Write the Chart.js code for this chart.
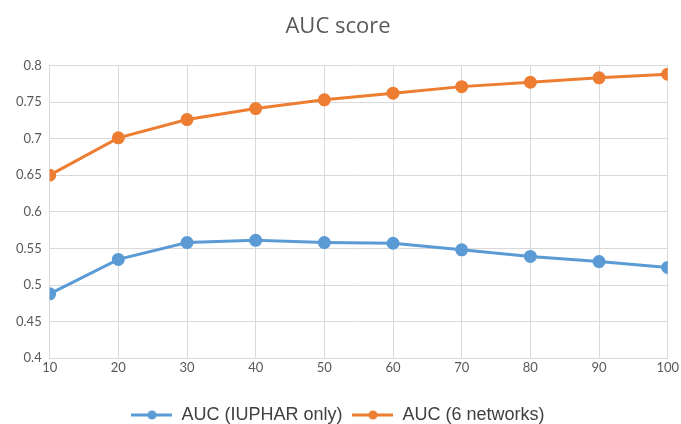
<!DOCTYPE html>
<html>
<head>
<meta charset="utf-8">
<script src="https://cdn.jsdelivr.net/npm/chart.js@4"></script>
<style>
  html, body { margin: 0; padding: 0; background: #fff; }
  #wrap { width: 681px; height: 424px; }
</style>
</head>
<body>
<div id="wrap"><canvas id="auc-chart"></canvas></div>
<script>
// AUC score chart data
const xValues = [10, 20, 30, 40, 50, 60, 70, 80, 90, 100];
const aucIuphar = [0.488, 0.535, 0.558, 0.561, 0.558, 0.557, 0.548, 0.539, 0.532, 0.524];
const aucNetworks = [0.650, 0.701, 0.726, 0.741, 0.753, 0.762, 0.771, 0.777, 0.783, 0.788];
const seriesNames = ['AUC (IUPHAR only)', 'AUC (6 networks)'];
const seriesColors = ['#5B9BD5', '#ED7D31'];

// small canvas with line + dot, used as legend marker
function legendMarker(color) {
  const c = document.createElement('canvas');
  c.width = 41;
  c.height = 12;
  const g = c.getContext('2d');
  g.strokeStyle = color;
  g.lineWidth = 3;
  g.beginPath();
  g.moveTo(0, 6);
  g.lineTo(41, 6);
  g.stroke();
  g.fillStyle = color;
  g.beginPath();
  g.arc(20.5, 6, 4.5, 0, Math.PI * 2);
  g.fill();
  return c;
}

function makeDataset(i, values) {
  return {
    label: seriesNames[i],
    data: xValues.map((x, k) => ({ x: x, y: values[k] })),
    borderColor: seriesColors[i],
    backgroundColor: seriesColors[i],
    borderWidth: 3,
    pointRadius: 5,
    pointHoverRadius: 5,
    tension: 0,
    fill: false
  };
}

const ctx = document.getElementById('auc-chart');
new Chart(ctx, {
  type: 'line',
  data: {
    datasets: [makeDataset(0, aucIuphar), makeDataset(1, aucNetworks)]
  },
  options: {
    responsive: true,
    maintainAspectRatio: false,
    animation: false,
    layout: { padding: { left: 8, right: 13, top: 11, bottom: -10 } },
    plugins: {
      title: {
        display: true,
        text: 'AUC score',
        color: '#595959',
        font: { family: 'Open Sans', size: 22, weight: 'normal' },
        padding: { top: 3, bottom: 25 }
      },
      legend: {
        position: 'bottom',
        title: { display: true, text: '', font: { size: 1 }, padding: { top: 17, bottom: 0 } },
        labels: {
          color: '#404040',
          font: { family: 'Liberation Sans', size: 18 },
          usePointStyle: true,
          pointStyleWidth: 41,
          boxHeight: 12,
          padding: 10,
          generateLabels: function(chart) {
            return chart.data.datasets.map((ds, i) => ({
              text: ds.label,
              fontColor: '#404040',
              pointStyle: legendMarker(seriesColors[i]),
              datasetIndex: i,
              hidden: false,
              lineWidth: 0,
              strokeStyle: 'transparent',
              fillStyle: seriesColors[i]
            }));
          }
        }
      },
      tooltip: { enabled: false }
    },
    scales: {
      x: {
        type: 'linear',
        min: 10,
        max: 100,
        ticks: {
          stepSize: 10,
          color: '#595959',
          font: { family: 'Lato', size: 13 },
          padding: 2
        },
        grid: { color: '#D9D9D9', lineWidth: 1, drawTicks: false },
        border: { color: '#D9D9D9' }
      },
      y: {
        min: 0.4,
        max: 0.8,
        ticks: {
          stepSize: 0.05,
          color: '#595959',
          font: { family: 'Lato', size: 13 },
          padding: 8,
          callback: function(v) { return String(Math.round(v * 100) / 100); }
        },
        grid: { color: '#D9D9D9', lineWidth: 1, drawTicks: false },
        border: { color: '#D9D9D9' }
      }
    }
  }
});
</script>
</body>
</html>
